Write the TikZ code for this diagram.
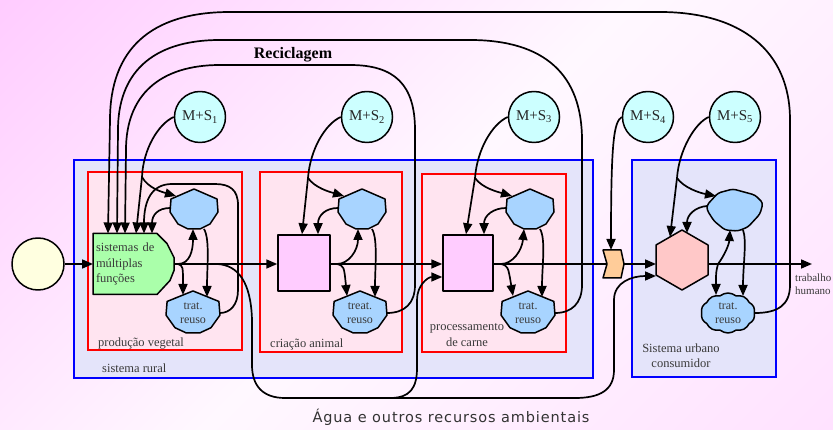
\documentclass[tikz,border=0pt]{standalone}
\usepackage{fontspec}
\setmainfont{Liberation Serif}
\newfontfamily\labelsans[LetterSpace=6]{DejaVu Sans}
\usetikzlibrary{arrows.meta,calc,shapes.symbols}

\definecolor{bgTL}{HTML}{FFCCFF}
\definecolor{bgMid}{HTML}{FFF8FF}
\definecolor{bgBR}{HTML}{FFE2FF}
\definecolor{lavender}{HTML}{E4E4FA}
\definecolor{rosebox}{HTML}{FFE4F0}
\definecolor{greenfill}{HTML}{AAFFAA}
\definecolor{tankblue}{HTML}{A8D4FF}
\definecolor{sqpink}{HTML}{FFCCFF}
\definecolor{hexpink}{HTML}{FFC8C8}
\definecolor{chevorange}{HTML}{FFCC99}
\definecolor{mscyan}{HTML}{CCFFFF}
\definecolor{srcyellow}{HTML}{FFFFE0}
\definecolor{labelgray}{HTML}{3A3A3A}

\pgfdeclareverticalshading{bgshade}{100bp}{color(0bp)=(bgBR); color(14.6bp)=(bgBR); color(50bp)=(bgMid); color(85.4bp)=(bgTL); color(100bp)=(bgTL)}

% storage / treatment outline, centred on the origin (y grows downwards)
\newcommand\tankpath{(0,-21) -- (23,-11) -- (24,2) -- (16,14) -- (6,19) -- (-6,19) -- (-16,14) -- (-24,2) -- (-23,-11) -- cycle}

\begin{document}
\begin{tikzpicture}[x=1pt,y=-1pt,
  flow/.style={line width=1.7pt, line join=round, -{Triangle[length=11pt,width=9pt]}},
  wire/.style={line width=1.7pt, line join=round},
  hold/.style={rectangle, inner sep=0pt, outer sep=0pt},
  shapeline/.style={draw=black, line width=1.5pt, line join=round},
  bluebox/.style={rectangle, draw=blue, line width=1.8pt, fill=lavender, inner sep=0pt},
  redbox/.style={rectangle, draw=red, line width=1.8pt, fill=rosebox, inner sep=0pt},
  lbl/.style={text=labelgray, font=\fontsize{12.5}{16}\selectfont, inner sep=0pt, align=center},
  msnode/.style={circle, shapeline, fill=mscyan, minimum size=51pt, inner sep=0pt, font=\fontsize{15}{15}\selectfont, text=black!85},
  tratlbl/.style={hold, minimum width=54pt, minimum height=42pt, align=center, text=labelgray, font=\fontsize{12}{14}\selectfont}]

\useasboundingbox (0,0) rectangle (833,430);
\shade[shading=bgshade, shading angle=45] (0,0) rectangle (833,430);

% system boundaries
\node[bluebox, minimum width=519pt, minimum height=218pt] (rural) at (333.5,269) {};
\node[bluebox, minimum width=144pt, minimum height=217pt] (urban) at (704,268.5) {};
\node[redbox, minimum width=154pt, minimum height=178pt] (veg) at (165,261) {};
\node[redbox, minimum width=142pt, minimum height=180pt] (ani) at (331,262) {};
\node[redbox, minimum width=144pt, minimum height=178pt] (proc) at (494,263) {};

% labels
\node[lbl, anchor=west] (lveg) at (98,344) {produção vegetal};
\node[lbl, anchor=west] (lrur) at (102,368) {sistema rural};
\node[lbl, anchor=west] (lani) at (270,344) {criação animal};
\node[lbl] (lproc) at (467,335) {processamento\\de carne};
\node[lbl, font=\fontsize{12.5}{15}\selectfont] (lurb) at (681,356) {Sistema urbano\\consumidor};
\node[lbl, anchor=west, align=left, font=\fontsize{11}{13.5}\selectfont] (ltrab) at (795,284) {trabalho\\humano};
\node[font=\bfseries\fontsize{16}{16}\selectfont, inner sep=0pt] (recic) at (293,55) {Reciclagem};
\node[font=\labelsans\fontsize{14.5}{14.5}\selectfont, text=black!80, inner sep=0pt] (agua) at (451,417) {Água e outros recursos ambientais};

% sources
\node[circle, shapeline, fill=srcyellow, minimum size=52pt, inner sep=0pt] (src) at (38,264) {};
\node[msnode] (m1) at (200,117) {M+S\textsubscript{1}};
\node[msnode] (m2) at (367,117) {M+S\textsubscript{2}};
\node[msnode] (m3) at (534,117) {M+S\textsubscript{3}};
\node[msnode] (m4) at (648,117) {M+S\textsubscript{4}};
\node[msnode] (m5) at (735,117) {M+S\textsubscript{5}};

% multi-function production
\draw[shapeline, fill=greenfill, shift={(133.5,264)}] (-40.5,-30.5) -- (23.5,-30.5) -- (33.5,-20.5) -- (40.5,-6.5) -- (40.5,6.5) -- (36.5,16.5) -- (23.5,30.5) -- (-40.5,30.5) -- cycle;
\node[hold, inner xsep=3pt, text width=75pt, minimum height=61pt, align=left, text=labelgray, font=\fontsize{12.5}{15.5}\selectfont] (msf) at (133.5,264) {sistemas de\\múltiplas\\funções};

% storages
\draw[shapeline, fill=tankblue, shift={(194,210)}] \tankpath;
\node[hold, minimum width=48pt, minimum height=40pt] (t1) at (194,210) {};
\draw[shapeline, fill=tankblue, shift={(362,210)}] \tankpath;
\node[hold, minimum width=48pt, minimum height=40pt] (t2) at (362,210) {};
\draw[shapeline, fill=tankblue, shift={(530,210)}] \tankpath;
\node[hold, minimum width=48pt, minimum height=40pt] (t3) at (530,210) {};
\draw[shapeline, fill=tankblue, rounded corners=3pt, shift={(735,210)}] (-28,-5) -- (-17,-17) -- (-2,-21) -- (20,-15) -- (28,-7) -- (25,4) -- (13,17) -- (3,21) -- (-10,20) -- (-21,11) -- (-28,0) -- cycle;
\node[hold, minimum width=56pt, minimum height=42pt] (t5) at (735,210) {};

% treatment and reuse
\draw[shapeline, fill=tankblue, shift={(193,313)}, xscale=1.125, yscale=1.05] \tankpath;
\node[tratlbl] (r1) at (193,313) {trat.\\reuso};
\draw[shapeline, fill=tankblue, shift={(360,313)}, xscale=1.125, yscale=1.05] \tankpath;
\node[tratlbl] (r2) at (360,313) {treat.\\reuso};
\draw[shapeline, fill=tankblue, shift={(528,313)}, xscale=1.125, yscale=1.05] \tankpath;
\node[tratlbl] (r3) at (528,313) {trat.\\reuso};
\node[cloud, cloud puffs=10, cloud puff arc=80, aspect=1.35, shapeline, fill=tankblue, minimum width=54pt, minimum height=40pt, inner sep=0pt, align=center, text=labelgray, font=\fontsize{12}{14}\selectfont] (r5) at (728,313) {trat.\\reuso};

% processing units
\node[shapeline, fill=sqpink, minimum width=52pt, minimum height=56pt, inner sep=0pt] (s2) at (304,263) {};
\node[shapeline, fill=sqpink, minimum width=50pt, minimum height=56pt, inner sep=0pt] (s3) at (468,263) {};
\draw[shapeline, fill=chevorange] (603,250) -- (621,250) -- (624,264) -- (621,278) -- (603,278) -- (607,264) -- cycle;
\node[hold, minimum width=21pt, minimum height=28pt] (ch) at (613,264) {};
\draw[shapeline, fill=hexpink, shift={(682,260)}] (0,-30) -- (26,-15) -- (26,15) -- (0,30) -- (-26,15) -- (-26,-15) -- cycle;
\node[hold, minimum width=52pt, minimum height=60pt] (hx) at (682,260) {};

\coordinate (out) at (812,264);

% main chain
\draw[flow] (src.east) -- (msf.west);
\draw[flow] (msf.east) -- (msf.east -| s2.west);
\draw[flow] (msf.east -| s2.east) -- (msf.east -| s3.west);
\draw[wire] (msf.east -| s3.east) -- ($(ch.west)+(4.5,0)$);
\draw[flow] (ch.east) -- (ch.east -| hx.west);
\draw[flow] (ch.east -| hx.east) -- (out);

% module 1
\coordinate (k1) at (142,177);
\coordinate (f1) at (178,264);
\coordinate (w0) at (217,264);
\draw[wire] (m1.west) .. controls (158,124) and (143,150) .. (k1);
\draw[flow] (k1) -- ($(msf.north west)+(43,0)$);
\draw[flow] (k1) .. controls (148,188) and (162,192) .. ($(t1.center)+(-18,-14)$);
\draw[flow] ($(t1.center)+(-24,-2)$) .. controls (158,208) and (152,215) .. ($(msf.north west)+(59,0)$);
\draw[flow] (r1.east) .. controls (230,313) and (238,305) .. (238,290) -- (238,205) .. controls (238,190) and (230,184) .. (215,184) -- (172,184) .. controls (152,184) and (144,200) .. ($(msf.north west)+(51,0)$);
\draw[flow] (f1) .. controls (190,264) and (193,250) .. ($(t1.south)+(-1,-1)$);
\draw[flow] (f1) .. controls (183,266) .. ($(r1.center)+(-10,-18)$);
\draw[flow] ($(t1.center)+(10,19)$) .. controls +(6,10) and +(0,-30) .. ($(r1.center)+(14,-16)$);

% module 2
\coordinate (k2) at (308,178);
\coordinate (f2) at (337,264);
\draw[wire] (m2.west) .. controls (325,124) and (310,150) .. (k2);
\draw[flow] (k2) -- ($(s2.north)+(-2,0)$);
\draw[flow] (k2) .. controls (315,188) and (330,192) .. ($(t2.center)+(-18,-14)$);
\draw[flow] ($(t2.center)+(-24,-2)$) .. controls (326,208) and (318,215) .. ($(s2.north)+(14,0)$);
\draw[flow] (f2) .. controls (349,264) and (358,250) .. ($(t2.south)+(-4,-1)$);
\draw[flow] (f2) .. controls (344,266) .. ($(r2.center)+(-13,-17)$);
\draw[flow] ($(t2.center)+(10,19)$) .. controls +(6,10) and +(0,-30) .. ($(r2.center)+(15,-16)$);

% module 3
\coordinate (k3) at (475,178);
\coordinate (f3) at (501,264);
\draw[wire] (m3.west) .. controls (492,124) and (477,150) .. (k3);
\draw[flow] (k3) -- ($(s3.north)+(-2,0)$);
\draw[flow] (k3) .. controls (482,188) and (498,192) .. ($(t3.center)+(-18,-14)$);
\draw[flow] ($(t3.center)+(-24,-2)$) .. controls (494,208) and (484,215) .. ($(s3.north)+(16,0)$);
\draw[flow] (f3) .. controls (513,264) and (522,250) .. ($(t3.south)+(-6,-1)$);
\draw[flow] (f3) .. controls (508,266) .. ($(r3.center)+(-15,-17)$);
\draw[flow] ($(t3.center)+(10,19)$) .. controls +(6,10) and +(0,-30) .. ($(r3.center)+(14,-16)$);

% interface
\draw[flow] (m4.west) .. controls (614,122) and (611,140) .. ($(ch.north)+(-2,0)$);

% urban module
\coordinate (k5) at (677,178);
\coordinate (f5) at (718,264);
\draw[wire] (m5.west) .. controls (695,123) and (679,150) .. (k5);
\draw[flow] (k5) -- ($(hx.center)+(-12,-23)$);
\draw[flow] (k5) .. controls (684,188) and (700,193) .. ($(t5.center)+(-19,-14)$);
\draw[flow] ($(t5.center)+(-28,-4)$) .. controls (695,207) and (687,215) .. ($(hx.center)+(5,-27)$);
\draw[flow] (f5) .. controls (724,256) and (729,245) .. ($(t5.center)+(-5,20)$);
\draw[flow] (f5) .. controls (716,272) .. ($(r5.center)+(-12,-18)$);
\draw[flow] ($(t5.center)+(8,20)$) .. controls +(4,10) and +(0,-30) .. ($(r5.center)+(15,-17)$);

% recycling loops
\draw[flow] (r5.east) .. controls (778,313) and (790,305) .. (790,285) -- (790,120) .. controls (790,50) and (740,12) .. (660,12) -- (230,12) .. controls (150,12) and (110,50) .. (110,120) -- ($(msf.north west)+(15,0)$);
\draw[flow] (r3.east) .. controls (572,313) and (582,303) .. (582,285) -- (582,140) .. controls (582,75) and (545,40) .. (470,40) -- (220,40) .. controls (150,40) and (118,75) .. (118,130) -- ($(msf.north west)+(24,0)$);
\draw[flow] (r2.east) .. controls (405,313) and (415,303) .. (415,285) -- (415,130) .. controls (415,85) and (395,65) .. (350,65) -- (220,65) .. controls (160,65) and (126,95) .. (126,150) -- ($(msf.north west)+(32,0)$);

% environmental resources
\coordinate (wb) at (390,398);
\draw[flow] (w0) .. controls (238,265) and (251,282) .. (252,320) -- (252,365) .. controls (252,385) and (262,398) .. (285,398) -- (wb) .. controls (410,398) and (417,388) .. (417,368) -- (417,300) .. controls (417,285) and (428,277) .. ($(s3.west)+(0,14)$);
\draw[flow] (wb) -- (575,398) .. controls (600,398) and (614,390) .. (614,370) -- (614,300) .. controls (614,282) and (632,276) .. ($(hx.center)+(-26,16)$);

\end{tikzpicture}
\end{document}
